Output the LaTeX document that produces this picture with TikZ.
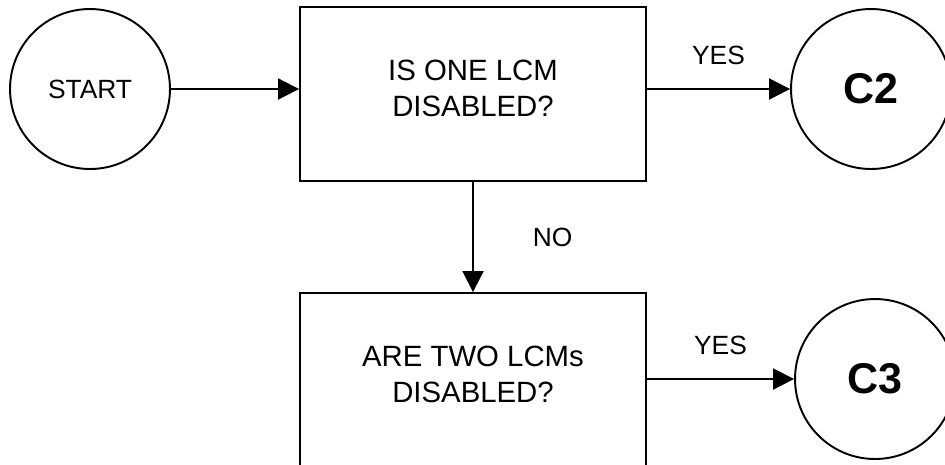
\documentclass[tikz,border=0pt]{standalone}
\usepackage{fontspec}
\setmainfont{Liberation Sans}
\usetikzlibrary{arrows.meta}

\begin{document}
\begin{tikzpicture}[x=0.02cm,y=-0.02cm,line width=1.1pt,
		term/.style={draw,circle,minimum size=3.2cm,inner sep=0pt,font=\fontsize{15}{18}\selectfont},
		query/.style={draw,rectangle,minimum width=6.92cm,minimum height=3.48cm,align=center,text depth=0.24cm,font=\fontsize{16.7}{20.5}\selectfont},
		answer/.style={inner sep=0pt,font=\fontsize{15}{18}\selectfont},
		flow/.style={-{Triangle[length=0.42cm,width=0.42cm]}}]
	\useasboundingbox (0,0) rectangle (945,464);
	\node[term] (start) at (90,89) {START};
	\node[query] (q1) at (473,94) {IS ONE LCM\\DISABLED?};
	\node[query] (q2) at (473,380) {ARE TWO LCMs\\DISABLED?};
	\node[term,font=\bfseries\fontsize{24.5}{28}\selectfont] (c2) at (871,89) {C2};
	\node[term,font=\bfseries\fontsize{24.5}{28}\selectfont] (c3) at (875,379) {C3};
	\draw[flow] (start.east) to (start.east -| q1.west);
	\draw[flow] (q1.east |- c2.west) to node[answer,above=0.46cm] {YES} (c2.west);
	\draw[flow] (q1) to node[answer,right=1.18cm] {NO} (q2);
	\draw[flow] (q2.east |- c3.west) to node[answer,above=0.46cm] {YES} (c3.west);
\end{tikzpicture}
\end{document}
